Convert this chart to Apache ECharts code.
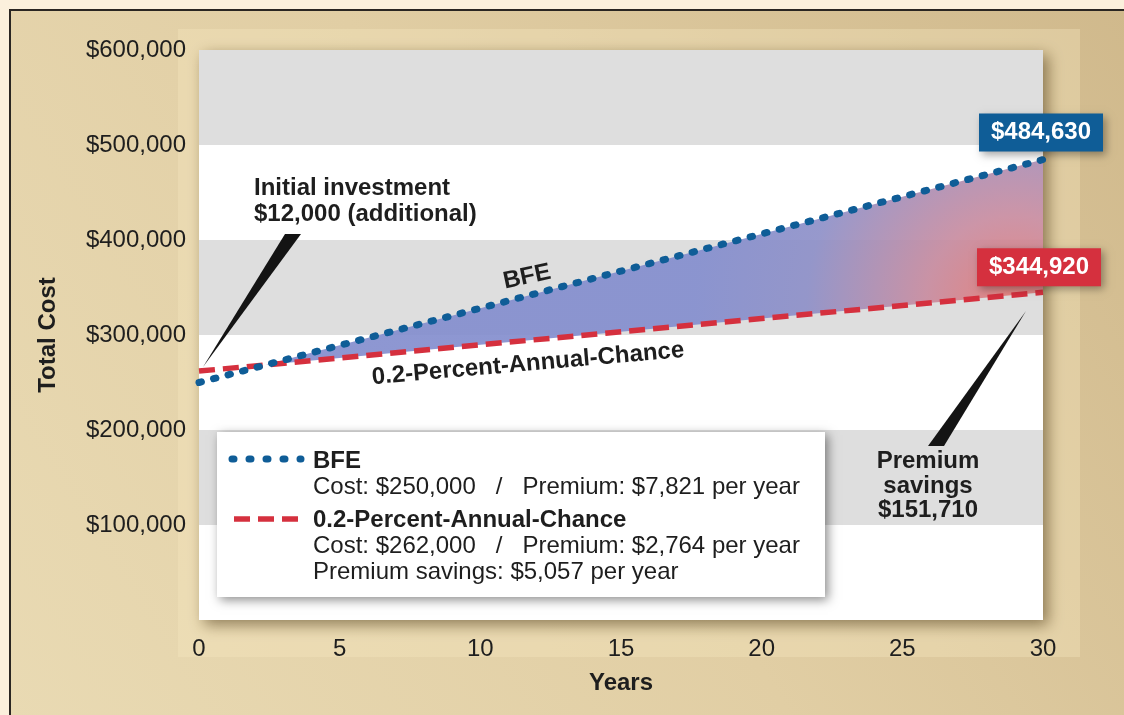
<!DOCTYPE html>
<html>
<head>
<meta charset="utf-8">
<title>Total Cost over 30 Years</title>
<script src="https://cdn.jsdelivr.net/npm/echarts@6/dist/echarts.min.js"></script>
<style>
  html, body { margin: 0; padding: 0; background: #fbf0dc; }
  #chart { width: 1124px; height: 715px; }
</style>
</head>
<body>
<div id="chart"></div>
<script>
// Years since construction
const years = [0, 5, 10, 15, 20, 25, 30];
// Cumulative cost (construction + premiums) built to the BFE
const bfeCost = [250000, 289105, 328210, 367315, 406420, 445525, 484630];
// Cumulative cost built to the 0.2-percent-annual-chance elevation
const flood02Cost = [262000, 275820, 289640, 303460, 317280, 331100, 344920];
// Y axis tick labels, one per 100,000 step
const costTickLabels = ['', '$100,000', '$200,000', '$300,000', '$400,000', '$500,000', '$600,000'];
const yearTickLabels = ['0', '5', '10', '15', '20', '25', '30'];

const FONT = "'Liberation Sans', Arial, Helvetica, sans-serif";
const BLUE = '#0f5d97';
const RED = '#d5303e';
const INK = '#1e1e1e';

const fmtMoney = v => '$' + Math.round(v).toLocaleString('en-US');
const last = years.length - 1;

const chart = echarts.init(document.getElementById('chart'), null, { renderer: 'canvas' });

// Region between the two cost lines where the BFE option costs more
function renderSavings(params, api) {
  const upper = [], lower = [];
  for (let i = 0; i < years.length; i++) {
    const d = bfeCost[i] - flood02Cost[i];
    if (i > 0) {
      const dp = bfeCost[i - 1] - flood02Cost[i - 1];
      if ((dp < 0 && d > 0) || (dp > 0 && d < 0)) {
        const t = dp / (dp - d);
        const x = years[i - 1] + t * (years[i] - years[i - 1]);
        const y = flood02Cost[i - 1] + t * (flood02Cost[i] - flood02Cost[i - 1]);
        upper.push([x, y]);
        lower.push([x, y]);
      }
    }
    if (d >= 0) {
      upper.push([years[i], bfeCost[i]]);
      lower.push([years[i], flood02Cost[i]]);
    }
  }
  const pts = upper.concat(lower.reverse()).map(p => api.coord(p));
  return {
    type: 'polygon',
    shape: { points: pts },
    style: {
      fill: {
        type: 'radial', x: 1015, y: 305, r: 320, global: true,
        colorStops: [
          { offset: 0, color: 'rgba(230,126,120,0.95)' },
          { offset: 0.28, color: 'rgba(200,140,160,0.92)' },
          { offset: 0.65, color: 'rgba(142,144,200,0.92)' },
          { offset: 1, color: 'rgba(132,142,206,0.92)' }
        ]
      }
    }
  };
}

const option = {
  backgroundColor: '#fbf0dc',
  animation: false,
  textStyle: { fontFamily: FONT },
  grid: {
    left: 199, top: 50, right: 81, bottom: 95,
    show: true, backgroundColor: '#ffffff', borderWidth: 0,
    shadowBlur: 14, shadowColor: 'rgba(70,50,15,0.55)', shadowOffsetX: 5, shadowOffsetY: 5
  },
  xAxis: {
    type: 'value', min: 0, max: 30, interval: 5,
    axisLine: { show: false }, axisTick: { show: false }, splitLine: { show: false },
    axisLabel: {
      color: INK, fontSize: 24, fontFamily: FONT, margin: 17,
      formatter: v => yearTickLabels[years.indexOf(v)]
    },
    name: 'Years', nameLocation: 'middle', nameGap: 51,
    nameTextStyle: { color: INK, fontSize: 24, fontWeight: 'bold', fontFamily: FONT }
  },
  yAxis: {
    type: 'value', min: 0, max: 600000, interval: 100000,
    axisLine: { show: false }, axisTick: { show: false }, splitLine: { show: false },
    splitArea: { show: true, areaStyle: { color: ['#ffffff', '#dedede'] } },
    axisLabel: {
      color: INK, fontSize: 24, fontFamily: FONT, margin: 13,
      formatter: v => costTickLabels[Math.round(v / 100000)]
    },
    name: 'Total Cost', nameLocation: 'middle', nameGap: 139, nameRotate: 90,
    nameTextStyle: { color: INK, fontSize: 24, fontWeight: 'bold', fontFamily: FONT }
  },
  series: [
    {
      type: 'custom',
      name: 'savings',
      renderItem: renderSavings,
      data: [[0, 0]],
      z: 2,
      silent: true
    },
    {
      type: 'line',
      name: '0.2-Percent-Annual-Chance',
      data: years.map((x, i) => [x, flood02Cost[i]]),
      symbol: 'none',
      lineStyle: { color: RED, width: 5.5, type: [16, 8], cap: 'butt' },
      z: 3,
      markPoint: {
        symbol: 'rect', symbolSize: [124, 38], symbolOffset: [-4, -25],
        itemStyle: { color: RED, shadowBlur: 8, shadowColor: 'rgba(0,0,0,0.35)', shadowOffsetX: 3, shadowOffsetY: 3 },
        label: { show: true, position: 'inside', color: '#fff', fontWeight: 'bold', fontSize: 24, fontFamily: FONT,
                 formatter: p => fmtMoney(p.value) },
        data: [{ coord: [years[last], flood02Cost[last]], value: flood02Cost[last] }]
      }
    },
    {
      type: 'line',
      name: 'BFE',
      data: years.map((x, i) => [x, bfeCost[i]]),
      symbol: 'none',
      lineStyle: { color: BLUE, width: 7, type: [2.5, 12.5], cap: 'round' },
      z: 4,
      markPoint: {
        symbol: 'rect', symbolSize: [124, 38], symbolOffset: [-2, -27],
        itemStyle: { color: BLUE, shadowBlur: 8, shadowColor: 'rgba(0,0,0,0.35)', shadowOffsetX: 3, shadowOffsetY: 3 },
        label: { show: true, position: 'inside', color: '#fff', fontWeight: 'bold', fontSize: 24, fontFamily: FONT,
                 formatter: p => fmtMoney(p.value) },
        data: [{ coord: [years[last], bfeCost[last]], value: bfeCost[last] }]
      }
    }
  ],
  graphic: [
    // framed panel behind the plot
    {
      type: 'rect', z: -20, silent: true,
      shape: { x: 10, y: 10, width: 1200, height: 800 },
      style: {
        fill: {
          type: 'linear', x: 1124, y: 0, x2: 0, y2: 715, global: true,
          colorStops: [
            { offset: 0, color: '#d0b98c' },
            { offset: 0.5, color: '#e1cea4' },
            { offset: 1, color: '#e9dab3' }
          ]
        },
        stroke: '#2a2622', lineWidth: 2
      }
    },
    {
      type: 'rect', z: -19, silent: true,
      shape: { x: 178, y: 29, width: 902, height: 628 },
      style: { fill: 'rgba(246,232,192,0.35)' }
    },
    // on-plot labels along the lines
    {
      type: 'text', z: 50, x: 527, y: 277, rotation: 12 * Math.PI / 180,
      style: { text: 'BFE', fill: INK, font: 'bold 24px ' + FONT, align: 'center', verticalAlign: 'middle' }
    },
    {
      type: 'text', z: 50, x: 528, y: 364, rotation: 5 * Math.PI / 180,
      style: { text: '0.2-Percent-Annual-Chance', fill: INK, font: 'bold 24px ' + FONT, align: 'center', verticalAlign: 'middle' }
    },
    // callouts
    {
      type: 'text', z: 50, x: 254, y: 201,
      style: { text: 'Initial investment\n$12,000 (additional)', fill: INK, font: 'bold 24px ' + FONT,
               lineHeight: 26, align: 'left', verticalAlign: 'middle' }
    },
    {
      type: 'polygon', z: 50,
      shape: { points: [[285, 234], [301, 234], [203, 367]] },
      style: { fill: '#141414' }
    },
    {
      type: 'text', z: 50, x: 928, y: 486,
      style: { text: 'Premium\nsavings\n$151,710', fill: INK, font: 'bold 24px ' + FONT,
               lineHeight: 24.5, align: 'center', verticalAlign: 'middle' }
    },
    {
      type: 'polygon', z: 50,
      shape: { points: [[1026, 311], [944, 446], [928, 446]] },
      style: { fill: '#141414' }
    },
    // key box
    {
      type: 'group', z: 60,
      children: [
        {
          type: 'rect', z: 60,
          shape: { x: 217, y: 432, width: 608, height: 165 },
          style: { fill: '#ffffff', shadowBlur: 10, shadowColor: 'rgba(0,0,0,0.45)', shadowOffsetX: 3, shadowOffsetY: 3 }
        },
        {
          type: 'line', z: 61,
          shape: { x1: 232, y1: 459, x2: 301, y2: 459 },
          style: { stroke: BLUE, lineWidth: 7, lineDash: [2, 15], lineCap: 'round' }
        },
        {
          type: 'line', z: 61,
          shape: { x1: 234, y1: 519, x2: 298, y2: 519 },
          style: { stroke: RED, lineWidth: 5.5, lineDash: [16, 8] }
        },
        {
          type: 'text', z: 61, x: 313, y: 461,
          style: { text: 'BFE', fill: INK, font: 'bold 24px ' + FONT, verticalAlign: 'middle' }
        },
        {
          type: 'text', z: 61, x: 313, y: 487,
          style: { text: 'Cost: $250,000   /   Premium: $7,821 per year', fill: INK, font: '24px ' + FONT, verticalAlign: 'middle' }
        },
        {
          type: 'text', z: 61, x: 313, y: 520,
          style: { text: '0.2-Percent-Annual-Chance', fill: INK, font: 'bold 24px ' + FONT, verticalAlign: 'middle' }
        },
        {
          type: 'text', z: 61, x: 313, y: 546,
          style: { text: 'Cost: $262,000   /   Premium: $2,764 per year', fill: INK, font: '24px ' + FONT, verticalAlign: 'middle' }
        },
        {
          type: 'text', z: 61, x: 313, y: 572,
          style: { text: 'Premium savings: $5,057 per year', fill: INK, font: '24px ' + FONT, verticalAlign: 'middle' }
        }
      ]
    }
  ]
};

chart.setOption(option);
</script>
</body>
</html>
